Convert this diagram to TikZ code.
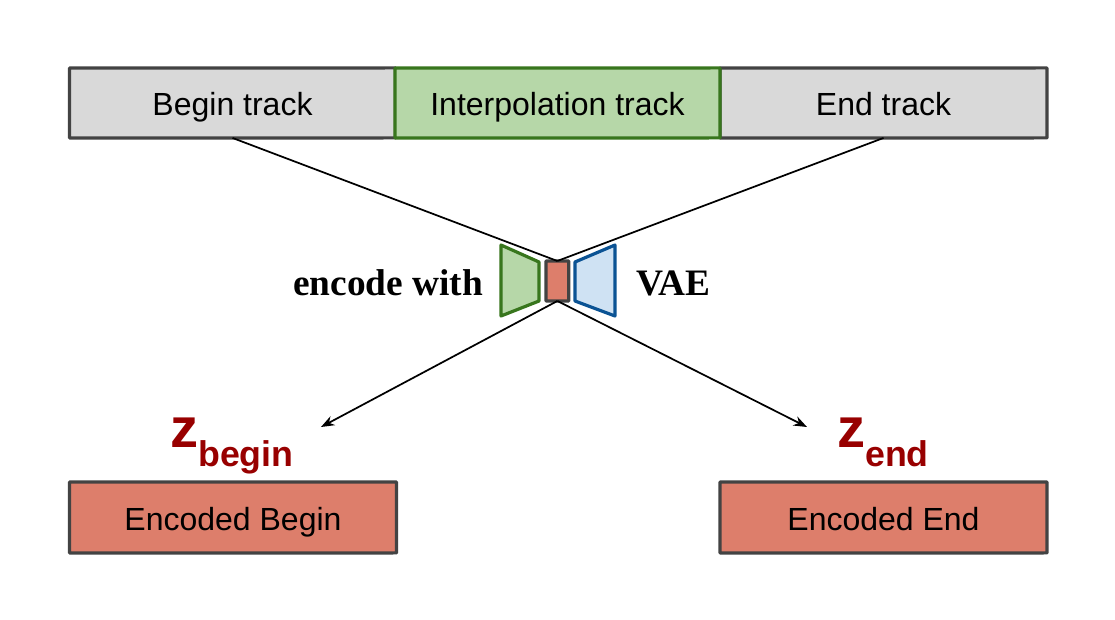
\documentclass[tikz,border=0pt]{standalone}
\usepackage{fontspec}
\setmainfont{Liberation Sans}
\newfontfamily\serifbold[BoldFont={Liberation Serif Bold}]{Liberation Serif}
\usetikzlibrary{arrows.meta}
\definecolor{trackgray}{HTML}{D9D9D9}
\definecolor{edgegray}{HTML}{434343}
\definecolor{greenfill}{HTML}{B6D7A8}
\definecolor{greenedge}{HTML}{38761D}
\definecolor{bluefill}{HTML}{CFE2F3}
\definecolor{blueedge}{HTML}{0B5394}
\definecolor{latentred}{HTML}{DD7E6B}
\definecolor{zred}{HTML}{980000}
\tikzset{
  px/.style={x=0.75pt,y=-0.75pt},
  boxbase/.style={draw=edgegray,line width=2.4pt,line join=round,inner sep=0pt,outer sep=0pt,rotate=0.02,
    font=\fontsize{24}{28}\selectfont,text=black,text height=36pt,text depth=16.5pt},
  graytrack/.style={boxbase,fill=trackgray},
  greentrack/.style={boxbase,fill=greenfill,draw=greenedge},
  encbox/.style={boxbase,fill=latentred,text height=36.75pt,text depth=16.5pt},
  connector/.style={draw=black,line width=1.3pt},
  arrowline/.style={connector,-{Stealth[length=10pt,width=7.5pt]}},
  serifnote/.style={font=\fontsize{28}{32}\selectfont\serifbold\bfseries,text=black,inner sep=0pt,anchor=base west},
  zmain/.style={font=\fontsize{42}{44}\selectfont\bfseries,text=zred,inner sep=0pt,anchor=base west},
  zsub/.style={font=\fontsize{26.8}{30}\selectfont\bfseries,text=zred,inner sep=0pt,anchor=base west},
}
\begin{document}
\begin{tikzpicture}[px]
\useasboundingbox (0,0) rectangle (1115,619);
\fill[white] (0,0) rectangle (1115,619);
% tracks
\node[graytrack,minimum width=244.5pt,anchor=north west] (begintrack) at (69.5,68) {Begin track};
\node[graytrack,minimum width=245.25pt,anchor=north west] (endtrack) at (720,68) {End track};
\node[greentrack,minimum width=243.75pt,anchor=north west] (interp) at (395,68) {Interpolation track};
% encoded boxes
\node[encbox,minimum width=245.25pt,anchor=north west] (encbegin) at (69.5,482) {Encoded Begin};
\node[encbox,minimum width=245.25pt,anchor=north west] (encend) at (720,482) {Encoded End};
% VAE
\node[draw=edgegray,fill=latentred,line width=2.4pt,line join=round,inner sep=0pt,outer sep=0pt,rotate=0.1,
  minimum width=17pt,minimum height=30pt,anchor=north west] (latent) at (546,261) {};
\coordinate (etl) at (501,245); \coordinate (etr) at (539,262);
\coordinate (ebr) at (539,301); \coordinate (ebl) at (501,316);
\draw[draw=greenedge,fill=greenfill,line width=2.4pt,line join=round] (etl) -- (etr) -- (ebr) -- (ebl) -- cycle;
\coordinate (dtl) at (575,262); \coordinate (dtr) at (615,245);
\coordinate (dbr) at (615,316); \coordinate (dbl) at (575,301);
\draw[draw=blueedge,fill=bluefill,line width=2.4pt,line join=round] (dtl) -- (dtr) -- (dbr) -- (dbl) -- cycle;
\node[serifnote] (enc) at (293,295) {encode with};
\node[serifnote] (vae) at (636,295) {VAE};
% connectors
\draw[connector] (begintrack.south) -- (latent.north);
\draw[connector] (endtrack.south) -- (latent.north);
\coordinate (zbeginarrow) at (321,427);
\coordinate (zendarrow) at (807,427);
\draw[arrowline] (latent.south) -- (zbeginarrow);
\draw[arrowline] (latent.south) -- (zendarrow);
% z labels
\node[zmain] (zb) at (170,447) {z};
\node[zsub] (zbs) at (198,466) {begin};
\node[zmain] (ze) at (837,447) {z};
\node[zsub] (zes) at (865,466) {end};
\end{tikzpicture}
\end{document}
